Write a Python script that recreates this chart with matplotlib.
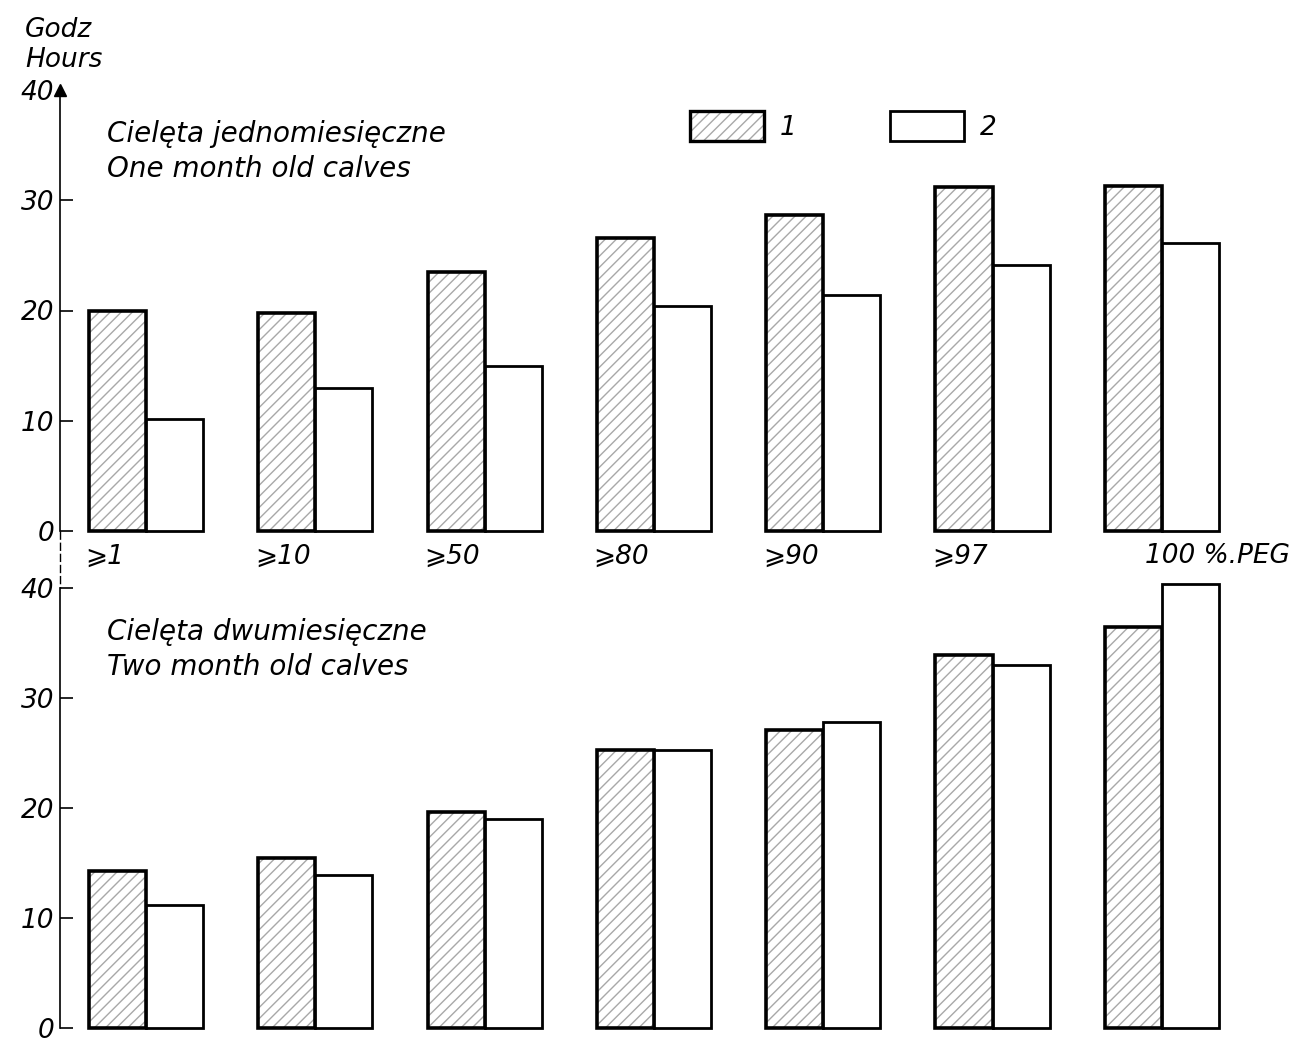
import numpy as np
import matplotlib.pyplot as plt
from matplotlib.patches import Patch

plt.rcParams['font.family'] = ['DejaVu Sans']
plt.rcParams['font.style'] = 'italic'
plt.rcParams['hatch.linewidth'] = 1.0

cats = ['⩾1', '⩾10', '⩾50', '⩾80', '⩾90', '⩾97', '100 %.PEG']
# one month old calves
m1_s1 = [20.0, 19.8, 23.5, 26.6, 28.7, 31.2, 31.3]
m1_s2 = [10.2, 13.0, 15.0, 20.4, 21.4, 24.1, 26.1]
# two month old calves
m2_s1 = [14.3, 15.5, 19.6, 25.3, 27.1, 33.9, 36.5]
m2_s2 = [11.2, 13.9, 19.0, 25.3, 27.8, 33.0, 40.4]
yticks = [0, 10, 20, 30, 40]

W, H = 1303, 1043
fig = plt.figure(figsize=(W / 100, H / 100), dpi=100)

x = np.arange(len(cats))
bw = 0.337
xl = (-0.508, 6.834)
fs = 19
hcol = '#a8a8a8'


def panel(bottom_px, top_px, s1, s2, title, arrow):
    ax = fig.add_axes([60 / W, 1 - bottom_px / H, (W - 60) / W, (bottom_px - top_px) / H])
    ax.bar(x - bw / 2, s1, bw, color='white', edgecolor=hcol, hatch='///', linewidth=0, clip_on=False)
    ax.bar(x - bw / 2, s1, bw, fill=False, edgecolor='black', linewidth=2.6, clip_on=False)
    ax.bar(x + bw / 2, s2, bw, color='white', edgecolor='black', linewidth=2.0, clip_on=False)
    ax.set_xlim(*xl)
    ax.set_ylim(0, 40)
    for s in ['top', 'right', 'bottom']:
        ax.spines[s].set_visible(False)
    ax.spines['left'].set_linewidth(1.2)
    ax.set_xticks([])
    ax.set_yticks(yticks)
    ax.set_yticklabels([str(v) for v in yticks], fontsize=fs, style='italic')
    ax.tick_params(axis='y', direction='in', length=9, width=1.2, pad=4)
    ax.set_facecolor('none')
    if arrow:
        ax.plot([0], [40], marker='^', color='black', markersize=9,
                transform=ax.get_yaxis_transform(), clip_on=False)
        ax.yaxis.get_major_ticks()[-1].tick1line.set_visible(False)
    ax.text((107 - 60) / (W - 60), 34.4, title, transform=ax.get_yaxis_transform(),
            fontsize=20, style='italic', va='center', ha='left', linespacing=1.3)
    return ax


ax1 = panel(531, 90, m1_s1, m1_s2,
            'Cielęta jednomiesięczne\nOne month old calves', True)
ax2 = panel(1028, 588, m2_s1, m2_s2,
            'Cielęta dwumiesięczne\nTwo month old calves', False)

# axis line continues between the two panels
ax1.plot([0, 0], [0, -5.2], color='black', linewidth=1.0, linestyle=(0, (6, 2)),
         transform=ax1.get_yaxis_transform(), clip_on=False)

for i, c in enumerate(cats):
    xx = i - bw - 0.02 if i < 6 else i - bw + 0.236
    ax1.text(xx, -2.3, c, fontsize=fs, style='italic', va='center', ha='left')

# legend boxes
h1 = (Patch(facecolor='white', edgecolor=hcol, hatch='///', linewidth=0),
      Patch(fill=False, edgecolor='black', linewidth=2.4))
h2 = Patch(facecolor='white', edgecolor='black', linewidth=2.0)
fig.legend([h1, h2], ['1', '2'], loc='center left', bbox_to_anchor=(666 / W, 1 - 126 / H),
           ncol=2, frameon=False, fontsize=fs, handlelength=2.8, handleheight=1.4,
           columnspacing=3.55, handletextpad=0.6)

fig.text(25 / W, 1 - 30 / H, 'Godz', fontsize=fs, style='italic', va='center', ha='left')
fig.text(25 / W, 1 - 60 / H, 'Hours', fontsize=fs, style='italic', va='center', ha='left')

fig.savefig('out.png', dpi=100, facecolor='white')
